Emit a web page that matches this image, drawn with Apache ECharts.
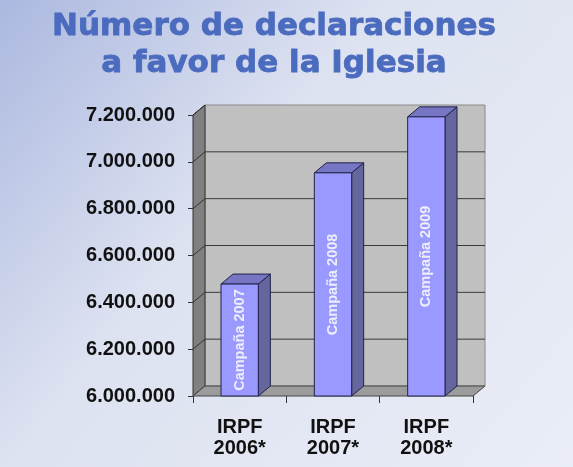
<!DOCTYPE html>
<html>
<head>
<meta charset="utf-8">
<script src="https://cdn.jsdelivr.net/npm/echarts@6/dist/echarts.min.js"></script>
<style>
    html, body { margin: 0; padding: 0; }
    #chart { width: 573px; height: 467px; }
</style>
</head>
<body>
<div id="chart"></div>
<script>
const categories = ['IRPF\n2006*', 'IRPF\n2007*', 'IRPF\n2008*'];
const campaigns = ['Campaña 2007', 'Campaña 2008', 'Campaña 2009'];
const declarations = [6478000, 6953000, 7192000];
const yMin = 6000000;
const yMax = 7200000;
const yStep = 200000;

// 3d depth offset (px)
const DX = 12;
const DY = -10;

const fmtDots = v => String(v).replace(/\B(?=(\d{3})+(?!\d))/g, '.');

const chart = echarts.init(document.getElementById('chart'));

const renderWalls = (params, api) => {
    const cs = params.coordSys;
    const x0 = cs.x, x1 = cs.x + cs.width;
    const yT = cs.y, yB = cs.y + cs.height;
    const children = [
        { type: 'polygon', shape: { points: [[x0 + DX, yT + DY], [x1 + DX, yT + DY], [x1 + DX, yB + DY], [x0 + DX, yB + DY]] },
          style: { fill: '#c0c0c0', stroke: '#8a8a8a', lineWidth: 1 } },
        { type: 'polygon', shape: { points: [[x0, yB], [x0, yT], [x0 + DX, yT + DY], [x0 + DX, yB + DY]] },
          style: { fill: '#808080', stroke: '#333', lineWidth: 1 } },
        { type: 'polygon', shape: { points: [[x0, yB], [x1, yB], [x1 + DX, yB + DY], [x0 + DX, yB + DY]] },
          style: { fill: '#9c9c9c', stroke: '#444', lineWidth: 1 } },
    ];
    for (let v = yMin + yStep; v <= yMax; v += yStep) {
        const y = api.coord([0, v])[1];
        if (v < yMax) {
            children.push({ type: 'line', shape: { x1: x0 + DX, y1: y + DY, x2: x1 + DX, y2: y + DY },
                style: { stroke: '#3a3a3a', lineWidth: 1 } });
        }
        children.push({ type: 'line', shape: { x1: x0, y1: y, x2: x0 + DX, y2: y + DY },
            style: { stroke: '#333', lineWidth: 1 } });
    }
    return { type: 'group', children };
};

const renderBar = (params, api) => {
    const top = api.coord([api.value(0), api.value(1)]);
    const base = api.coord([api.value(0), yMin]);
    const w = api.size([1, 0])[0] * 0.4;
    const xL = top[0] - w / 2, xR = top[0] + w / 2;
    const yT = top[1], yB = base[1];
    const edge = { stroke: '#22224a', lineWidth: 1 };
    return {
        type: 'group',
        children: [
            { type: 'polygon', shape: { points: [[xR, yT], [xR + DX, yT + DY], [xR + DX, yB + DY], [xR, yB]] },
              style: Object.assign({ fill: '#66669e' }, edge) },
            { type: 'polygon', shape: { points: [[xL, yT], [xL + DX, yT + DY], [xR + DX, yT + DY], [xR, yT]] },
              style: Object.assign({ fill: '#7676c4' }, edge) },
            { type: 'rect', shape: { x: xL, y: yT, width: w, height: yB - yT },
              style: Object.assign({ fill: '#9999ff' }, edge) },
            { type: 'text', x: top[0], y: (yT + yB) / 2, rotation: Math.PI / 2,
              style: { text: campaigns[params.dataIndex], fill: '#eeeefa', fontSize: 14.5, fontWeight: 'bold',
                       fontFamily: 'Liberation Sans, Arial, sans-serif', align: 'center', verticalAlign: 'middle' } },
        ],
    };
};

chart.setOption({
    backgroundColor: {
        type: 'linear', x: 0, y: 0, x2: 1, y2: 1,
        colorStops: [
            { offset: 0, color: '#abb8df' },
            { offset: 0.4, color: '#dde2f1' },
            { offset: 1, color: '#eaedf6' },
        ],
    },
    title: {
        text: 'Número de declaraciones\na favor de la Iglesia',
        left: 274,
        top: 8,
        padding: 0,
        textAlign: 'center',
        textStyle: { fontFamily: 'DejaVu Sans', fontWeight: 'bold', fontSize: 31, lineHeight: 37, color: '#4b6bbf',
                     textBorderColor: '#4b6bbf', textBorderWidth: 0.8 },
    },
    grid: { left: 193, right: 100, top: 115, bottom: 71 },
    xAxis: {
        type: 'category',
        data: categories,
        axisLine: { show: false },
        axisTick: { show: true, length: 7, lineStyle: { color: '#333' } },
        axisLabel: { margin: 21, fontFamily: 'Liberation Sans, Arial, sans-serif', fontWeight: 'bold', fontSize: 20, lineHeight: 21, color: '#111' },
    },
    yAxis: {
        type: 'value',
        min: yMin,
        max: yMax,
        interval: yStep,
        axisLine: { show: false },
        axisTick: { show: true, length: 5, lineStyle: { color: '#333' } },
        splitLine: { show: false },
        axisLabel: { margin: 18, formatter: fmtDots, fontFamily: 'Liberation Sans, Arial, sans-serif', fontWeight: 'bold', fontSize: 20, color: '#111' },
    },
    series: [
        { type: 'custom', z: 1, silent: true, renderItem: renderWalls, data: [[0, yMin]] },
        { type: 'custom', z: 3, renderItem: renderBar, data: declarations.map((v, i) => [i, v]) },
    ],
});
</script>
</body>
</html>
